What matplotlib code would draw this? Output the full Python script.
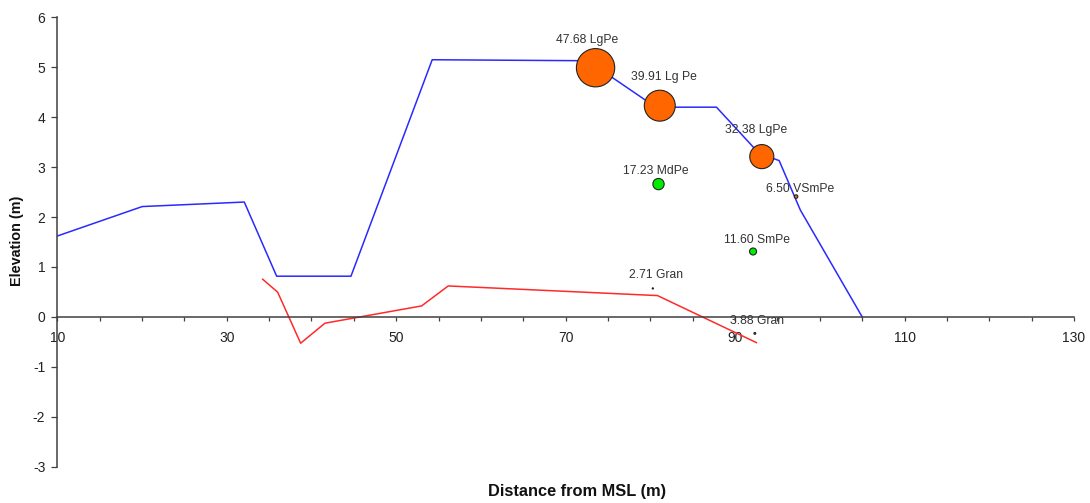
import matplotlib
matplotlib.use("Agg")
import matplotlib.pyplot as plt
import numpy as np

# ---------------- data ----------------
profile_x = [10.0, 20.03, 32.07, 35.89, 44.66, 54.25, 72.6, 80.64, 87.8, 92.8, 95.2, 97.7, 105.0]
profile_y = [1.62, 2.21, 2.30, 0.815, 0.815, 5.15, 5.13, 4.20, 4.20, 3.28, 3.13, 2.14, 0.0]

red_x = [34.24, 36.01, 38.72, 41.59, 53.0, 56.14, 80.84, 92.52]
red_y = [0.755, 0.495, -0.527, -0.126, 0.22, 0.62, 0.427, -0.515]

sample_x = [73.53, 81.11, 93.15, 80.96, 97.2, 92.12, 80.29, 92.33]
sample_y = [4.99, 4.23, 3.21, 2.66, 2.41, 1.31, 0.57, -0.33]
sample_size = [47.68, 39.91, 32.38, 17.23, 6.50, 11.60, 2.71, 3.88]
sample_class = ["LgPe", "Lg Pe", "LgPe", "MdPe", "VSmPe", "SmPe", "Gran", "Gran"]

x_major = list(range(10, 131, 20))
x_minor = list(range(10, 131, 5))
y_ticks = list(range(-3, 7))

# ---------------- style ----------------
class_colors = {"LgPe": "#FF6600", "Lg Pe": "#FF6600", "MdPe": "#00EE00",
                "SmPe": "#00EE00", "VSmPe": "#FF6600", "Gran": "#FF6600"}
# label offsets in pixels (dx, up)
label_offsets = [(-8.7, 27.7), (4, 29), (-5.3, 26.7), (-2.7, 12.6),
                 (3.7, 7.7), (4.4, 11.7), (3, 13), (1.7, 12)]

plt.rcParams['font.family'] = ['Liberation Sans', 'DejaVu Sans']
plt.rcParams['axes.unicode_minus'] = False

W, H, DPI = 1090, 503, 100
PX = 72.0 / DPI  # points per pixel
fig = plt.figure(figsize=(W / DPI, H / DPI), dpi=DPI)
left, right, top, bottom = 57.3, 1074.0, 17.3, 466.7
ax = fig.add_axes([left / W, 1 - bottom / H, (right - left) / W, (bottom - top) / H])

ax.set_xlim(10, 130)
ax.set_ylim(-3, 6)

ax.plot(profile_x, profile_y, color="#2a2aff", lw=1.1, zorder=2)
ax.plot(red_x, red_y, color="#ff2a2a", lw=1.1, zorder=2)

vals = np.array(sample_size)
diam_px = 38.3 * (vals / vals.max()) ** 1.2
s = (diam_px * PX) ** 2
cols = [class_colors[c] for c in sample_class]
ax.scatter(sample_x, sample_y, s=s, c=cols, edgecolors="#222222",
           linewidths=0.8, zorder=3)

for xv, yv, v, c, (dx, up) in zip(sample_x, sample_y, sample_size, sample_class, label_offsets):
    ax.annotate(f"{v:.2f} {c}", (xv, yv), xytext=(dx * PX, up * PX),
                textcoords="offset points", ha="center", va="center",
                fontsize=8.7, color="#333333", zorder=4)

# spines
for sp in ["top", "right"]:
    ax.spines[sp].set_visible(False)
ax.spines["bottom"].set_position(("data", 0))
for sp in ["left", "bottom"]:
    ax.spines[sp].set_color("#404040")
    ax.spines[sp].set_linewidth(1.1)

ax.set_xticks(x_major)
ax.set_xticks(x_minor, minor=True)
ax.set_yticks(y_ticks)
ax.tick_params(axis="x", which="both", direction="out", length=4 * PX * 1.0 / PX * PX,
               width=0.9, color="#404040", pad=7.2, labelsize=10, labelcolor="#222222")
ax.tick_params(axis="y", which="both", direction="out", length=4.3,
               width=0.9, color="#404040", pad=4.3, labelsize=10, labelcolor="#222222")

fig.text(17 / W, 1 - 240.5 / H, "Elevation (m)", rotation=90, ha="center", va="center",
         fontsize=10.4, fontweight="bold", color="#111111")
fig.text(577.5 / W, 1 - 491.3 / H, "Distance from MSL (m)", ha="center", va="center",
         fontsize=11.8, fontweight="bold", color="#111111")

fig.savefig("out.png", dpi=DPI)
